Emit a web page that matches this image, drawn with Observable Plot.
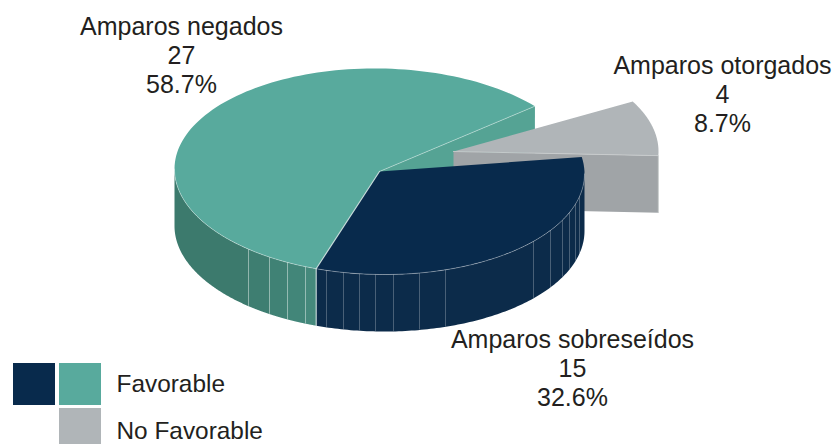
<!DOCTYPE html>
<html>
<head>
<meta charset="utf-8">
<script src="https://cdn.jsdelivr.net/npm/d3@7"></script>
<script src="https://cdn.jsdelivr.net/npm/@observablehq/plot@0.6"></script>
<style>html,body{margin:0;padding:0;background:#fff}svg{display:block}</style>
</head>
<body>
<div id="chart"></div>
<script>
// Data
const labels = ["Amparos sobreseídos", "Amparos negados", "Amparos otorgados"];
const counts = [15, 27, 4];
const groups = ["Favorable", "Favorable", "No Favorable"];
const total = d3.sum(counts);

// Styles
const topColors = ["#082a4c", "#58aa9d", "#b0b5b8"];
const legendLabels = ["Favorable", "No Favorable"];
const greenSeams = [248, 269, 287, 305];
const greenStrips = ["#3c7a6d", "#3e7e71", "#408275", "#428679", "#45897c"];
const navySeams = [326, 343, 359, 375, 393, 419, 445, 533, 550, 562, 569, 575, 579];

// Layout of the projected pie
const L = {cx: 379, cy: 171, rx: 205, ry: 103, depth: 57, start: -9.4, tilt: 0.012,
           gx: 453, gy: 151, gRot: 11.7};
const rad = d => d * Math.PI / 180;
const px = (deg, cx = L.cx) => cx + L.rx * Math.cos(rad(deg));
const py = (deg, cy = L.cy) => cy + L.ry * Math.sin(rad(deg)) + (cy === L.cy ? L.tilt * L.rx * Math.cos(rad(deg)) : 0);
const arc = (a, b, cx = L.cx, cy = L.cy, dy = 0) =>
  d3.range(0, 121).map(i => { const t = a + (b - a) * i / 120; return [px(t, cx), py(t, cy) + dy]; });
const degAtX = (x, lo, hi) => { // angle on the front arc whose x matches
  for (let i = 0; i < 40; i++) { const m = (lo + hi) / 2; if (px(m) > x) lo = m; else hi = m; }
  return (lo + hi) / 2;
};

// Slice angles from the values
let acc = L.start;
const spans = counts.map(c => { const a = acc; acc += c / total * 360; return [a, acc]; });
const [navy, green, grey] = spans;

const poly = (pts, key) => pts.map(([x, y]) => ({x, y, key}));
const closed = pts => [...pts, pts[0]];
const fillPoly = (pts, fill, extra = {}) =>
  Plot.line(poly(closed(pts), "p"), {x: "x", y: "y", z: "key", fill, stroke: "none", curve: "linear", ...extra});
const strokeLine = (pts, stroke, opacity = 1, width = 1) =>
  Plot.line(poly(pts, "p"), {x: "x", y: "y", z: "key", stroke, strokeOpacity: opacity, strokeWidth: width, curve: "linear"});
const wall = (a, b, cx = L.cx, cy = L.cy) => [...arc(a, b, cx, cy), ...arc(b, a, cx, cy, L.depth)];

// Grey exploded slice
const gA = grey[0] + L.gRot - 360, gB = grey[1] + L.gRot - 360;
const gCorner = [px(gB, L.gx), py(gB, L.gy)];
const gTop = [[L.gx, L.gy], ...arc(gA, gB, L.gx, L.gy)];
const gSide = [[L.gx, L.gy], gCorner, [gCorner[0], gCorner[1] + L.depth], [L.gx, L.gy + L.depth]];

// Green radial wall behind the grey slice
const gEdge = [px(green[1]), py(green[1])];
const greenSide = [[L.cx, L.cy], gEdge, [gEdge[0], gEdge[1] + L.depth], [L.cx, L.cy + L.depth]];

// Green front wall strips
const greenBreaks = [180, ...greenSeams.map(x => degAtX(x, green[0], 180)), green[0]];
const greenWalls = greenStrips.map((c, i) => fillPoly(wall(greenBreaks[i + 1], greenBreaks[i]), c));

// Seams
const seamRows = [...greenSeams.map(x => ({x, deg: degAtX(x, green[0], 180)})),
                  ...navySeams.map(x => ({x, deg: degAtX(x, 0, green[0])}))]
  .map(d => ({x: d.x, y1: py(d.deg), y2: py(d.deg) + L.depth}));

// Text
const labelRows = [
  {i: 0, x: 572, y: 367},
  {i: 1, x: 181, y: 54},
  {i: 2, x: 722, y: 93}
].map(d => ({...d, text: `${labels[d.i]}\n${counts[d.i]}\n${(counts[d.i] / total * 100).toFixed(1)}%`}));

const legendSwatches = [
  {x1: 13, x2: 55, y1: 363, y2: 405, fill: topColors[0]},
  {x1: 59, x2: 101, y1: 363, y2: 405, fill: topColors[1]},
  {x1: 59, x2: 101, y1: 408, y2: 444, fill: topColors[2]}
];
const legendText = [{x: 116, y: 384, t: legendLabels[0]}, {x: 116, y: 431, t: legendLabels[1]}];

const plot = Plot.plot({
  width: 835, height: 444, margin: 0,
  x: {domain: [0, 835], range: [0, 835], axis: null},
  y: {domain: [0, 444], range: [0, 444], axis: null},
  style: {background: "#fff", fontFamily: "'Liberation Sans', Arial, sans-serif"},
  marks: [
    fillPoly(greenSide, "#55a394"),
    fillPoly(gSide, "#a0a4a7"),
    fillPoly(gTop, topColors[2]),
    strokeLine([[L.gx, L.gy], gCorner, [gCorner[0], gCorner[1] + L.depth]], "#c9cccd", 0.9, 1),
    ...greenWalls,
    fillPoly(wall(0, navy[1]), "#0c2b4a"),
    Plot.ruleX(seamRows, {x: "x", y1: "y1", y2: "y2", stroke: "#fff", strokeOpacity: 0.25, strokeWidth: 1}),
    fillPoly([[L.cx, L.cy], ...arc(green[0], green[1])], topColors[1]),
    fillPoly([[L.cx, L.cy], ...arc(navy[0], navy[1])], topColors[0]),
    strokeLine(arc(green[0], 180), "#fff", 0.45, 0.8),
    strokeLine(arc(0, navy[1]), "#fff", 0.4, 0.8),
    strokeLine([[L.cx, L.cy], [px(navy[1]), py(navy[1])], [px(navy[1]), py(navy[1]) + L.depth]], "#dfeeea", 0.8, 1.2),
    strokeLine([[L.cx, L.cy], gEdge], "#cfe6e0", 0.7, 0.8),
    Plot.text(labelRows, {x: "x", y: "y", text: "text", fontSize: 25, lineHeight: 1.16, fill: "#231f20", textAnchor: "middle", lineAnchor: "middle"}),
    Plot.rect(legendSwatches, {x1: "x1", x2: "x2", y1: "y1", y2: "y2", fill: "fill"}),
    Plot.text(legendText, {x: "x", y: "y", text: "t", fontSize: 24.4, fill: "#231f20", textAnchor: "start", lineAnchor: "middle"})
  ]
});
document.getElementById("chart").append(plot);
</script>
</body>
</html>
